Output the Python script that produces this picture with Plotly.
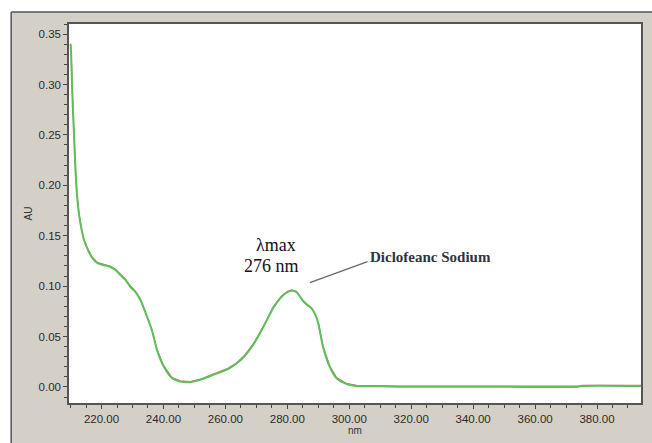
import plotly.graph_objects as go

wavelength_nm = [210.0, 210.2, 210.5, 210.8, 211.1, 211.6, 212.1, 212.7, 213.5, 214.3, 215.6, 217.0,
                 218.6, 220.5, 222.9, 224.5, 226.1, 227.8, 229.3, 231.0, 232.6, 234.7, 236.3, 237.9,
                 240.1, 242.8, 245.4, 248.6, 251.9, 255.1, 258.3, 261.0, 263.5, 266.0, 269.0, 272.0,
                 275.5, 278.0, 280.0, 281.4, 283.0, 285.0, 286.5, 287.8, 289.0, 290.0, 291.5, 293.7,
                 295.9, 299.0, 302.3, 306.0, 310.0, 316.0, 330.0, 350.0, 374.0, 375.0, 394.5]
absorbance_au = [0.340, 0.330, 0.298, 0.272, 0.252, 0.215, 0.190, 0.172, 0.157, 0.146, 0.136, 0.128,
                 0.123, 0.121, 0.119, 0.116, 0.111, 0.106, 0.0994, 0.094, 0.086, 0.0698, 0.0559, 0.0367,
                 0.0202, 0.0086, 0.0053, 0.0047, 0.0070, 0.0109, 0.0145, 0.018, 0.023, 0.030, 0.042, 0.058,
                 0.0787, 0.089, 0.094, 0.0955, 0.094, 0.0855, 0.081, 0.078, 0.072, 0.063, 0.040, 0.020,
                 0.0086, 0.0030, 0.0010, 0.0008, 0.0006, 0.0002, 0.0002, 0.0002, 0.0002, 0.0010, 0.0010]

x_tick_vals = [220, 240, 260, 280, 300, 320, 340, 360, 380]
y_tick_vals = [0.00, 0.05, 0.10, 0.15, 0.20, 0.25, 0.30, 0.35]

panel = "#d4d0c8"
W, H = 652, 443
ml, mr, mt, mb = 69, 9, 24, 40
pw, ph = W - ml - mr, H - mt - mb

def px(xp):
    return (xp - ml) / pw

def py(yp):
    return (H - mb - yp) / ph

fig = go.Figure()
fig.add_trace(go.Scatter(x=wavelength_nm, y=[v + 0.0007 for v in absorbance_au], mode="lines",
                         line=dict(color="#d07060", width=1.2), hoverinfo="skip", showlegend=False))
fig.add_trace(go.Scatter(x=wavelength_nm, y=absorbance_au, mode="lines",
                         line=dict(color="#5cbf5c", width=2, shape="spline", smoothing=0.6),
                         showlegend=False))

shapes = [
    dict(type="rect", xref="paper", yref="paper", x0=px(-5), x1=px(W + 5), y0=py(12), y1=py(-5),
         fillcolor="white", line=dict(width=0), layer="below"),
    dict(type="rect", xref="paper", yref="paper", x0=px(-5), x1=px(11), y0=py(H + 5), y1=py(-5),
         fillcolor="white", line=dict(width=0), layer="below"),
    dict(type="line", xref="paper", yref="paper", x0=px(11), x1=px(W + 5), y0=py(12), y1=py(12),
         line=dict(color="#555555", width=1.5), layer="below"),
    dict(type="line", xref="paper", yref="paper", x0=px(11), x1=px(11), y0=py(12), y1=py(H + 5),
         line=dict(color="#555555", width=1.5), layer="below"),
    dict(type="line", xref="x", yref="y", x0=287.3, y0=0.1035, x1=305.9, y1=0.1243,
         line=dict(color="#6a6a6a", width=1.5)),
]

annotations = [
    dict(x=276.3, y=0.141, xref="x", yref="y", text="λmax", showarrow=False,
         font=dict(family="Liberation Serif", size=18, color="#111111"), xanchor="center", yanchor="middle"),
    dict(x=275.0, y=0.120, xref="x", yref="y", text="276 nm", showarrow=False,
         font=dict(family="Liberation Serif", size=18, color="#111111"), xanchor="center", yanchor="middle"),
    dict(x=305.9, y=0.129, xref="x", yref="y", text="<b>Diclofeanc Sodium</b>", showarrow=False,
         font=dict(family="Liberation Serif", size=15, color="#2f3340"), xanchor="left", yanchor="middle"),
]

fig.update_layout(
    width=W, height=H,
    margin=dict(l=ml, r=mr, t=mt, b=mb),
    paper_bgcolor=panel, plot_bgcolor="white",
    shapes=shapes, annotations=annotations,
    font=dict(family="Liberation Sans", size=11.5, color="#2a2a2a"),
    xaxis=dict(range=[209.5, 394.2], tickvals=x_tick_vals, tickformat=".2f",
               title=dict(text="nm", standoff=0, font=dict(size=10, color="#333333")),
               showgrid=False, zeroline=False, showline=True, mirror=True,
               linecolor="#555555", linewidth=1.5, ticks="outside", ticklen=4, tickcolor="#444444",
               minor=dict(dtick=5, tick0=0, ticks="outside", ticklen=3, tickcolor="#444444")),
    yaxis=dict(range=[-0.0159, 0.360], tickvals=y_tick_vals, tickformat=".2f",
               title=dict(text="AU", standoff=4, font=dict(size=10, color="#333333")),
               showgrid=False, zeroline=False, showline=True, mirror=True,
               linecolor="#555555", linewidth=1.5, ticks="outside", ticklen=4, tickcolor="#444444",
               minor=dict(dtick=0.01, tick0=0, ticks="outside", ticklen=3, tickcolor="#444444")),
)

fig.write_html("out.html", config={"displayModeBar": False},
               post_script="document.body.style.margin='0px';document.body.style.overflow='hidden';")
